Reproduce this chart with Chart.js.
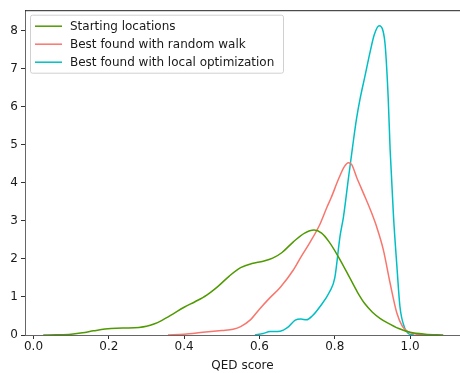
<!DOCTYPE html>
<html><head><meta charset="utf-8">
<script src="https://cdn.jsdelivr.net/npm/chart.js@4"></script>
<style>html,body{margin:0;padding:0;background:#fff}#wrap{width:460px;height:373px}</style>
</head><body><div id="wrap"><canvas id="c" width="460" height="373"></canvas></div>
<script>
const seriesLabels = ["Starting locations","Best found with random walk","Best found with local optimization"];
const seriesColors = ["#4f9a00","#f8766d","#00bfc4"];
const startX = [0.026,0.06,0.10,0.13,0.16,0.19,0.22,0.25,0.28,0.30,0.32,0.34,0.37,0.40,0.43,0.46,0.49,0.52,0.55,0.58,0.61,0.635,0.66,0.69,0.72,0.745,0.765,0.785,0.81,0.84,0.86,0.88,0.90,0.92,0.94,0.97,1.00,1.04,1.088];
const startY = [0,0.005,0.02,0.06,0.11,0.155,0.18,0.185,0.2,0.23,0.29,0.38,0.55,0.73,0.88,1.05,1.28,1.55,1.77,1.88,1.94,2.02,2.17,2.45,2.68,2.76,2.68,2.45,2.05,1.5,1.13,0.82,0.6,0.44,0.32,0.17,0.07,0.02,0.0];
const walkX = [0.357,0.40,0.45,0.50,0.53,0.55,0.575,0.60,0.625,0.655,0.69,0.71,0.735,0.76,0.78,0.79,0.81,0.825,0.836,0.845,0.858,0.876,0.895,0.911,0.929,0.947,0.965,0.98,0.995,1.02,1.05];
const walkY = [0,0.02,0.07,0.12,0.15,0.22,0.39,0.68,0.95,1.25,1.71,2.05,2.45,2.9,3.38,3.6,4.1,4.42,4.53,4.48,4.15,3.73,3.28,2.85,2.24,1.36,0.57,0.22,0.08,0.02,0.0];
const optX = [0.588,0.61,0.628,0.655,0.675,0.695,0.71,0.725,0.74,0.761,0.787,0.80,0.814,0.823,0.836,0.848,0.858,0.867,0.88,0.894,0.905,0.918,0.928,0.934,0.942,0.947,0.956,0.965,0.973,0.985,0.995,1.01];
const optY = [0,0.04,0.09,0.1,0.2,0.39,0.42,0.4,0.5,0.75,1.15,1.5,2.6,3.1,4.1,5.0,5.7,6.2,6.8,7.45,7.9,8.13,8.0,7.6,6.2,4.87,3.11,1.8,0.75,0.2,0.04,0.0];
const xTicks = [0.0,0.2,0.4,0.6,0.8,1.0];
const yTicks = [0,1,2,3,4,5,6,7,8];
const xTitle = "QED score";

const pts = (xs, ys) => xs.map((x,i)=>({x:x,y:ys[i]}));
const allSeries = [pts(startX,startY), pts(walkX,walkY), pts(optX,optY)];
const FONT = "'DejaVu Sans', sans-serif";

const frame = {
  id:'frame',
  afterDatasetsDraw(chart){
    const {ctx, chartArea:a} = chart;
    ctx.save();
    ctx.strokeStyle = '#222'; ctx.lineWidth = 1;
    ctx.beginPath(); ctx.moveTo(a.left, a.top+0.5); ctx.lineTo(a.right, a.top+0.5); ctx.stroke();
    // legend
    const x0 = a.left+5, y0 = a.top+4.5, w = 253, h = 58;
    ctx.fillStyle = 'rgba(255,255,255,0.85)';
    ctx.strokeStyle = '#d0d0d0';
    ctx.beginPath();
    if (ctx.roundRect) ctx.roundRect(x0+0.5, y0+0.5, w, h, 2); else ctx.rect(x0+0.5,y0+0.5,w,h);
    ctx.fill(); ctx.stroke();
    ctx.font = "12px " + FONT; ctx.textBaseline = 'middle'; ctx.textAlign = 'left';
    chart.data.datasets.forEach((ds,i)=>{
      const yy = y0 + 11.5 + i*18;
      ctx.strokeStyle = ds.borderColor; ctx.lineWidth = 1.5;
      ctx.beginPath(); ctx.moveTo(x0+5, yy); ctx.lineTo(x0+32, yy); ctx.stroke();
      ctx.fillStyle = '#1a1a1a';
      ctx.fillText(ds.label, x0+40, yy+0.5);
    });
    ctx.restore();
  }
};

new Chart(document.getElementById('c'), {
  type:'line',
  data:{ datasets: allSeries.map((d,i)=>({label:seriesLabels[i], data:d, borderColor:seriesColors[i], backgroundColor:seriesColors[i], borderWidth:1.5, pointRadius:0, fill:false, cubicInterpolationMode:'monotone'})) },
  options:{
    responsive:false, animation:false, devicePixelRatio:1,
    layout:{padding:{top:10, right:0, left:0, bottom:0}},
    plugins:{legend:{display:false}, tooltip:{enabled:false}},
    scales:{
      x:{type:'linear', min:-0.0225, max:1.1325,
        afterBuildTicks(s){ s.ticks = xTicks.map(v=>({value:v})); },
        afterFit(s){ s.height = 38; },
        grid:{drawOnChartArea:false, tickLength:4, tickColor:'#333'},
        border:{display:true, color:'#666', width:1},
        ticks:{color:'#1a1a1a', font:{family:FONT, size:12}, padding:1, maxRotation:0, callback:v=>Number(v).toFixed(1)},
        title:{display:true, text:xTitle, color:'#1a1a1a', font:{family:FONT, size:12}, padding:{top:1,bottom:0}}
      },
      y:{type:'linear', min:0, max:8.54,
        afterBuildTicks(s){ s.ticks = yTicks.map(v=>({value:v})); },
        afterFit(s){ s.width = 25; },
        grid:{drawOnChartArea:false, tickLength:4, tickColor:'#333'},
        border:{display:true, color:'#666', width:1},
        ticks:{color:'#1a1a1a', font:{family:FONT, size:12}, padding:3, callback:v=>String(v)}
      }
    }
  },
  plugins:[frame]
});
</script></body></html>
